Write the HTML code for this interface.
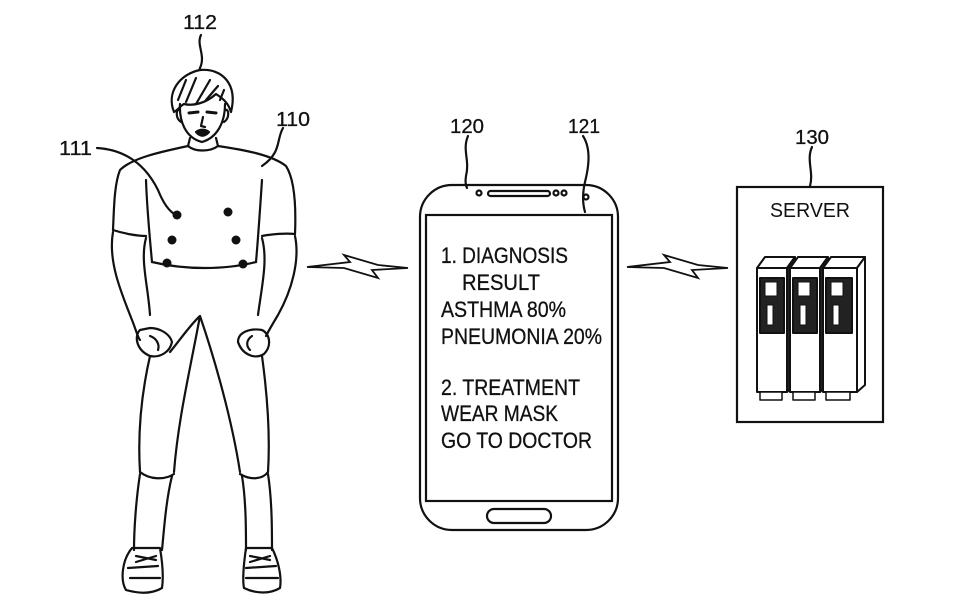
<!DOCTYPE html>
<html><head><meta charset="utf-8"><style>
html,body{margin:0;padding:0;background:#fff;}
svg{display:block;}
text{font-family:"Liberation Sans",sans-serif;fill:#111;}
</style></head><body>
<svg width="980" height="610" viewBox="0 0 980 610" xmlns="http://www.w3.org/2000/svg">
<g fill="none" stroke="#111" stroke-width="2.2" stroke-linecap="round" stroke-linejoin="round">
<!-- leader lines -->
<path d="M201,35 C196,45 206,55 200,68 C198,72 201,76 200,80"/>
<path d="M283,128 C276,140 282,152 262,166"/>
<path d="M97,148 C130,150 148,170 158,190 C164,205 170,212 176,215"/>
<path d="M468,136 C462,150 470,160 466,176 C465,182 466,186 467,188"/>
<path d="M583,136 C592,150 588,170 585,182 C582,195 583,205 585,212"/>
<path d="M812,147 C806,160 814,172 810,186"/>
<!-- head -->
<path d="M174,112 C166,92 180,74 200,70 C222,68 238,84 231,112 C228,102 222,98 216,94 C205,104 192,106 184,104 C180,106 178,110 174,112 Z" fill="#fff"/>
<path d="M186,80 L178,100 M196,78 L186,102 M210,80 L196,104 M218,86 L206,100 M224,90 L220,100"/>
<path d="M180,104 C179,122 186,138 202,142 C216,138 225,124 225,104"/>
<path d="M180,110 C176,108 175,118 181,122"/><path d="M225,110 C229,108 230,118 224,122"/>
<path d="M189,113 L198,112 M207,112 L216,113" stroke-width="3"/>
<path d="M203,117 L201,126 L205,127"/>
<path d="M196,132 C200,129 205,129 209,132 C205,137 200,137 196,132 Z" fill="#111"/>
<path d="M190,138 L188,146 M216,138 L218,146"/>
<!-- shirt -->
<path d="M188,146 C195,152 210,152 218,146"/>
<path d="M188,146 C160,152 132,158 120,170 C114,185 114,210 113,230"/>
<path d="M218,146 C245,150 272,155 286,166 C295,180 296,210 295,234"/>
<path d="M113,230 C122,233 136,236 146,236"/>
<path d="M295,234 C286,233 272,234 262,236"/>
<path d="M146,180 C147,210 150,240 152,262"/>
<path d="M262,180 C260,210 258,240 256,262"/>
<path d="M152,262 C185,270 225,270 256,262"/>
<!-- arms -->
<path d="M113,232 C108,260 120,290 132,320 C136,330 138,338 140,340"/>
<path d="M146,238 C140,260 148,285 150,315"/>
<path d="M295,236 C300,260 292,290 278,315 C272,325 268,332 266,336"/>
<path d="M262,238 C268,260 262,285 258,315"/>
<!-- fists -->
<path d="M140,330 C134,336 136,350 150,356 C160,358 170,352 172,342 C170,334 160,328 150,328 Z"/>
<path d="M150,336 C156,338 160,344 158,350"/>
<path d="M238,342 C238,332 250,328 262,330 C270,334 272,346 264,354 C254,360 242,354 238,342 Z"/>
<path d="M252,336 C246,340 246,346 250,350"/>
<!-- legs -->
<path d="M150,356 C140,400 138,440 140,472"/>
<path d="M170,352 C180,340 190,325 200,316 C190,370 178,420 174,472"/>
<path d="M200,316 C215,360 232,420 240,472"/>
<path d="M262,356 C268,400 270,440 268,472"/>
<path d="M140,472 C150,480 165,480 174,474"/>
<path d="M240,474 C250,480 262,480 268,472"/>
<path d="M140,474 C136,500 134,530 134,550"/>
<path d="M172,476 C166,500 164,530 162,550"/>
<path d="M242,476 C246,500 246,530 246,550"/>
<path d="M268,474 C272,500 272,530 272,550"/>
<!-- shoes -->
<path d="M132,548 C122,560 120,580 126,590 C140,594 152,594 162,588 C164,575 162,560 160,548 Z"/>
<path d="M128,568 L158,566 M130,578 L160,578 M136,556 L156,560 M136,562 L156,556"/>
<path d="M246,548 C244,562 242,578 244,588 C256,594 270,594 280,588 C282,576 278,560 272,548 Z"/>
<path d="M246,568 L276,566 M246,578 L278,578 M250,556 L270,560 M250,562 L270,556"/>
</g>
<g fill="#111">
<circle cx="177" cy="215" r="4.5"/><circle cx="228" cy="212" r="4.5"/>
<circle cx="172" cy="240" r="4.5"/><circle cx="236" cy="240" r="4.5"/>
<circle cx="167" cy="263" r="4.5"/><circle cx="243" cy="264" r="4.5"/>
</g>
<!-- lightning -->
<g fill="#fff" stroke="#111" stroke-width="1.8" stroke-linejoin="miter">
<path d="M307,267 L350,262 L344,255 L378,265 L408,268 L372,270 L378,278 L344,268 Z"/>
<path d="M627,267 L670,262 L664,255 L698,265 L728,268 L692,270 L698,278 L664,268 Z"/>
</g>
<!-- phone -->
<g fill="none" stroke="#111" stroke-width="2.2">
<rect x="420" y="185" width="198" height="345" rx="32"/>
<rect x="426" y="215" width="186" height="286"/>
<rect x="487" y="509" width="64" height="14" rx="7"/>
<rect x="488" y="191" width="62" height="5" rx="2.5"/>
<circle cx="479" cy="193" r="2.5"/><circle cx="556" cy="193" r="2.5"/><circle cx="564" cy="193" r="2.5"/><circle cx="586" cy="197" r="2.5"/>
</g>
<g font-size="22" stroke="#111" stroke-width="0.3">
<text x="441" y="263" textLength="127" lengthAdjust="spacingAndGlyphs">1. DIAGNOSIS</text>
<text x="462" y="290" textLength="78" lengthAdjust="spacingAndGlyphs">RESULT</text>
<text x="441" y="317" textLength="125" lengthAdjust="spacingAndGlyphs">ASTHMA 80%</text>
<text x="441" y="344" textLength="161" lengthAdjust="spacingAndGlyphs">PNEUMONIA 20%</text>
<text x="441" y="395" textLength="139" lengthAdjust="spacingAndGlyphs">2. TREATMENT</text>
<text x="441" y="421" textLength="117" lengthAdjust="spacingAndGlyphs">WEAR MASK</text>
<text x="441" y="448" textLength="151" lengthAdjust="spacingAndGlyphs">GO TO DOCTOR</text>
</g>
<!-- server -->
<rect x="737" y="187" width="146" height="235" fill="none" stroke="#111" stroke-width="2.2"/>
<text x="770" y="217" font-size="20" textLength="80" lengthAdjust="spacingAndGlyphs">SERVER</text>
<g stroke="#111" stroke-width="2" stroke-linejoin="round">
<g id="u">
<path d="M757,268 L765,257 L795,257 L787,268 Z" fill="#fff"/>
<path d="M787,268 L795,257 L795,385 L787,392 Z" fill="#222"/>
<rect x="757" y="268" width="30" height="124" fill="#fff"/>
<rect x="760" y="278" width="24" height="55" fill="#222"/>
<rect x="765" y="282" width="12" height="14" fill="#fff" stroke-width="1"/>
<rect x="767" y="305" width="6" height="20" fill="#fff" stroke-width="1"/>
<rect x="760" y="392" width="22" height="8" fill="#fff" stroke-width="1.5"/>
</g>
<use href="#u" x="33"/>
<g>
<path d="M823,268 L831,257 L865,257 L857,268 Z" fill="#fff"/>
<path d="M857,268 L865,257 L865,385 L857,392 Z" fill="#fff"/>
<rect x="823" y="268" width="34" height="124" fill="#fff"/>
<rect x="826" y="278" width="26" height="55" fill="#222"/>
<rect x="831" y="282" width="12" height="14" fill="#fff" stroke-width="1"/>
<rect x="833" y="305" width="6" height="20" fill="#fff" stroke-width="1"/>
<rect x="826" y="392" width="24" height="8" fill="#fff" stroke-width="1.5"/>
</g>
</g>
<!-- labels -->
<g font-size="20" stroke="#111" stroke-width="0.3">
<text x="183" y="29" textLength="34" lengthAdjust="spacingAndGlyphs">112</text>
<text x="276" y="126" textLength="34" lengthAdjust="spacingAndGlyphs">110</text>
<text x="59" y="155" textLength="33" lengthAdjust="spacingAndGlyphs">111</text>
<text x="450" y="133" textLength="34" lengthAdjust="spacingAndGlyphs">120</text>
<text x="568" y="133" textLength="32" lengthAdjust="spacingAndGlyphs">121</text>
<text x="795" y="144" textLength="34" lengthAdjust="spacingAndGlyphs">130</text>
</g>
</svg>
</body></html>
